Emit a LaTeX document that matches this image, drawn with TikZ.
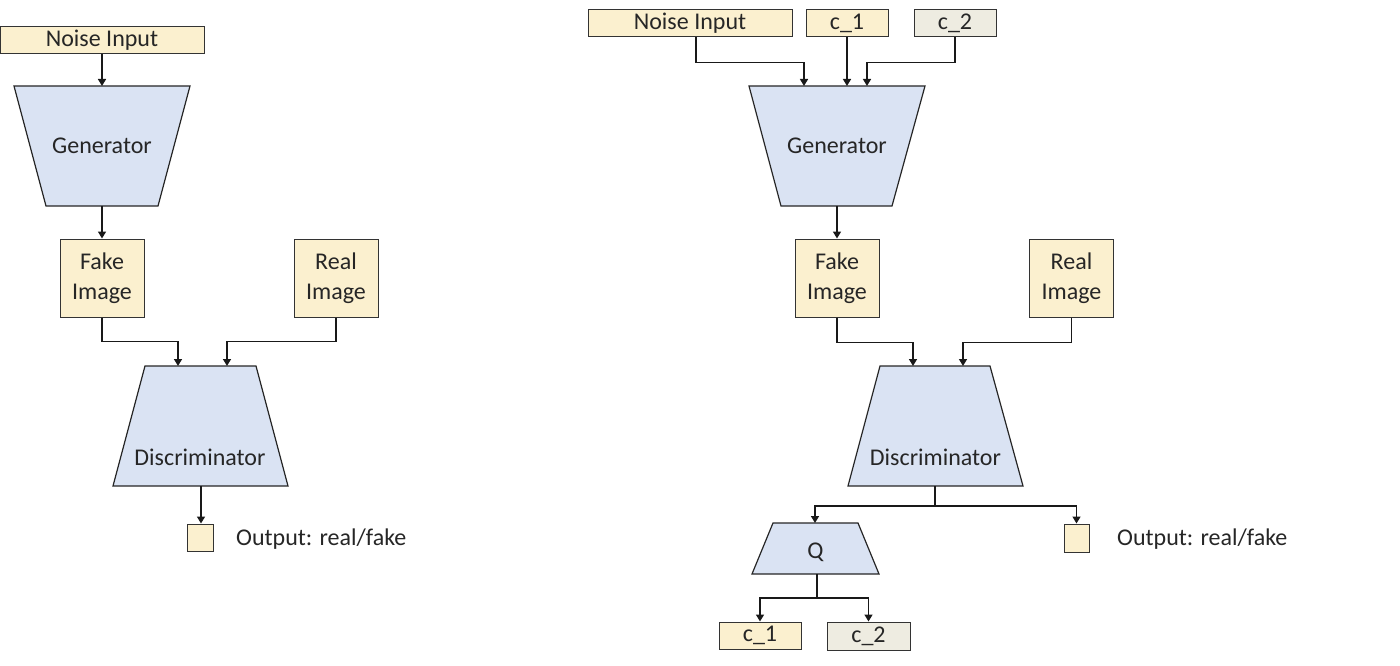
\documentclass[tikz,border=0pt]{standalone}
\usepackage{fontspec}
\setmainfont{Carlito}
\usetikzlibrary{arrows.meta}
\definecolor{ylw}{HTML}{FBF0CF}
\definecolor{gry}{HTML}{EEECE1}
\definecolor{blu}{HTML}{DAE3F3}
\definecolor{txt}{HTML}{262626}
\begin{document}
\begin{tikzpicture}[x=1pt,y=-1pt,
  every node/.style={font=\fontsize{24}{30}\selectfont, text=txt},
  box/.style={draw=black!80, line width=1pt, fill=ylw, inner sep=0pt, align=center},
  graybox/.style={box, fill=gry},
  trap/.style={draw=black!85, line width=1.2pt, fill=blu, line join=miter},
  arr/.style={draw=black!90, line width=1.5pt, -{Triangle[length=7pt,width=8pt]}},
  con/.style={draw=black!90, line width=1.5pt},
  lbl/.style={inner sep=0pt}]
\useasboundingbox (0,0) rectangle (1400,666);

% ================= LEFT: GAN =================
\node[box, minimum width=204pt, minimum height=27pt] (n1) at (102,40.5) {Noise Input};
\draw[trap] (14,86) -- (190,86) -- (158,206) -- (46,206) -- cycle;
\coordinate (g1top) at (102,86);
\coordinate (g1bot) at (102,206);
\node[lbl] (g1) at (102,146) {Generator};
\node[box, minimum width=84pt, minimum height=78pt] (f1) at (102,278) {Fake\\Image};
\node[box, minimum width=84pt, minimum height=78pt] (r1) at (336,278) {Real\\Image};
\draw[trap] (145,366) -- (256,366) -- (288,486) -- (113,486) -- cycle;
\coordinate (d1a) at (178,366);
\coordinate (d1b) at (227,366);
\coordinate (d1bot) at (201,486);
\node[lbl] (d1) at (200,457) {Discriminator};
\node[box, minimum width=26pt, minimum height=27pt] (o1) at (200,537.5) {};
\node[lbl, anchor=west] (o1t) at (236,539) {Output: real/fake};

\draw[arr] (n1.south) -- (g1top);
\draw[arr] (g1bot) -- (f1.north);
\draw[arr] (f1.south) -- ++(0,24) -| (d1a);
\draw[arr] (r1.south) -- ++(0,24) -| (d1b);
\draw[arr] (d1bot) -- (d1bot |- o1.north);

% ================= RIGHT: InfoGAN =================
\node[box, minimum width=204pt, minimum height=27pt] (n2) at (690,23.5) {Noise Input};
\node[box, minimum width=82pt, minimum height=27pt] (c1) at (847,23.5) {c\_1};
\node[graybox, minimum width=82pt, minimum height=27pt] (c2) at (955,23.5) {c\_2};
\draw[trap] (749,86) -- (925,86) -- (892,206) -- (781,206) -- cycle;
\coordinate (g2a) at (804,86);
\coordinate (g2b) at (847,86);
\coordinate (g2c) at (867,86);
\coordinate (g2bot) at (837,206);
\node[lbl] (g2) at (837,146) {Generator};

\draw[arr] ([xshift=6pt]n2.south) -- ++(0,25) -| (g2a);
\draw[arr] (c1.south) -- (g2b);
\draw[arr] (c2.south) -- ++(0,25) -| (g2c);

\node[box, minimum width=84pt, minimum height=78pt] (f2) at (837,278) {Fake\\Image};
\node[box, minimum width=84pt, minimum height=78pt] (r2) at (1071.5,278) {Real\\Image};
\draw[arr] (g2bot) -- (f2.north);

\draw[trap] (880,366) -- (990,366) -- (1023,486) -- (848,486) -- cycle;
\coordinate (d2a) at (913,366);
\coordinate (d2b) at (963,366);
\coordinate (d2bot) at (935,486);
\node[lbl] (d2) at (935.5,457) {Discriminator};
\draw[arr] (f2.south) -- ++(0,25) -| (d2a);
\draw[arr] (r2.south) -- ++(0,25) -| (d2b);

\draw[trap] (773,523) -- (858,523) -- (879,574) -- (752,574) -- cycle;
\coordinate (q2top) at (815,523);
\coordinate (q2bot) at (817,574);
\node[lbl] (q2) at (815.5,552) {Q};

\node[box, minimum width=25pt, minimum height=28pt] (o2) at (1076.5,538) {};
\node[lbl, anchor=west] (o2t) at (1117,539) {Output: real/fake};

\coordinate (split2) at (935,506);
\draw[con] (d2bot) -- (split2);
\draw[arr] (split2) -| (q2top);
\draw[arr] (split2) -| (o2.north);

\node[box, minimum width=82pt, minimum height=27pt] (c1b) at (760,635.5) {c\_1};
\node[graybox, minimum width=83pt, minimum height=28pt] (c2b) at (868.5,636) {c\_2};
\coordinate (split3) at (817,598);
\draw[con] (q2bot) -- (split3);
\draw[arr] (split3) -| (c1b.north);
\draw[arr] (split3) -| (c2b.north);
\end{tikzpicture}
\end{document}
